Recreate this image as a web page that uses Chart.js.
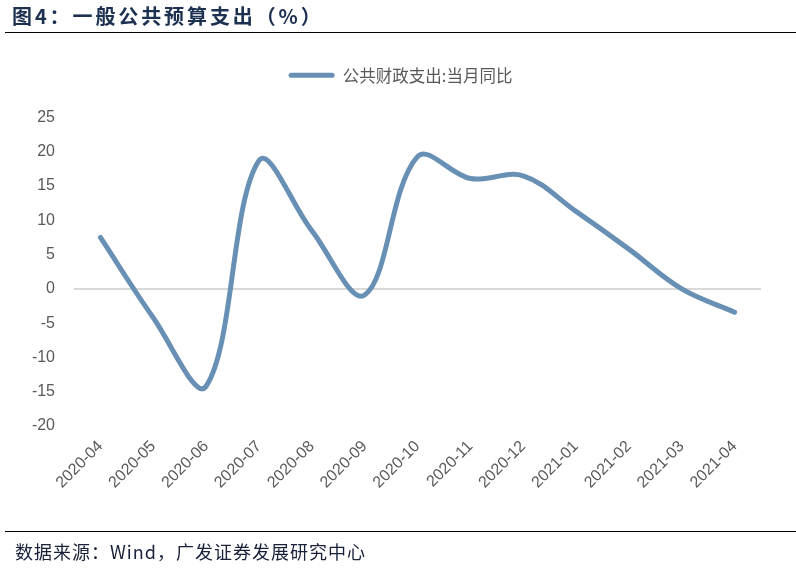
<!DOCTYPE html>
<html>
<head>
<meta charset="utf-8">
<script src="https://cdn.jsdelivr.net/npm/chart.js@4/dist/chart.umd.min.js"></script>
<style>
  html, body { margin: 0; padding: 0; background: #fff; }
  body { width: 796px; height: 573px; position: relative; overflow: hidden; }
  #title { position: absolute; left: 12px; top: 3px; font-family: "Noto Sans CJK SC", sans-serif; font-weight: bold; font-size: 20px; letter-spacing: 2.9px; color: #1c3050; line-height: 26px; white-space: nowrap; }
  #topline { position: absolute; left: 5px; right: 0; top: 32px; height: 0; border-top: 1.5px solid #000; }
  #botline { position: absolute; left: 5px; right: 0; top: 531px; height: 0; border-top: 1.5px solid #000; }
  #source { position: absolute; left: 15px; top: 538px; font-family: "Noto Sans CJK SC", sans-serif; font-size: 18px; letter-spacing: 1px; color: #18203a; line-height: 26px; white-space: nowrap; }
  #wrap { position: absolute; left: 0; top: 0; width: 796px; height: 573px; }
</style>
</head>
<body>
<div id="wrap"><canvas id="c"></canvas></div>
<div id="title">图4：一般公共预算支出（%）</div>
<div id="topline"></div>
<div id="botline"></div>
<div id="source">数据来源：Wind，广发证券发展研究中心</div>
<script>
const categories = ['2020-04','2020-05','2020-06','2020-07','2020-08','2020-09','2020-10','2020-11','2020-12','2021-01','2021-02','2021-03','2021-04'];
const seriesName = '公共财政支出:当月同比';
const seriesValues = [7.5, -4.2, -14.2, 18.7, 8.5, -0.9, 19.3, 16.1, 16.5, 11.3, 5.8, 0.0, -3.4];
const yMin = -20, yMax = 25, yStep = 5;

const lineColor = '#6890b5';

const legendMargin = {
  id: 'legendMargin',
  beforeInit(chart) {
    const origFit = chart.legend.fit;
    chart.legend.fit = function () {
      origFit.bind(chart.legend)();
      this.height += 24;
    };
  },
  afterLayout(chart) {
    chart.legend.left += 20;
    chart.legend.right += 20;
  }
};

new Chart(document.getElementById('c'), {
  type: 'line',
  data: {
    labels: categories,
    datasets: [{
      label: seriesName,
      data: seriesValues,
      borderColor: lineColor,
      backgroundColor: lineColor,
      borderWidth: 5,
      pointRadius: 0,
      pointHoverRadius: 0,
      tension: 0.36,
      borderCapStyle: 'round',
      borderJoinStyle: 'round',
      fill: false
    }]
  },
  options: {
    responsive: true,
    maintainAspectRatio: false,
    animation: false,
    layout: { padding: { left: 0, right: 35, top: 57, bottom: 0 } },
    plugins: {
      tooltip: { enabled: false },
      legend: {
        display: true,
        position: 'top',
        labels: {
          boxWidth: 46,
          boxHeight: 5,
          useBorderRadius: true,
          borderRadius: 2.5,
          color: '#595959',
          padding: 10,
          font: { family: '"Noto Sans CJK SC", sans-serif', size: 16.5 },
          generateLabels(chart) {
            return chart.data.datasets.map((ds, i) => ({
              text: ds.label,
              fillStyle: ds.borderColor,
              strokeStyle: ds.borderColor,
              lineWidth: 0,
              fontColor: '#595959',
              hidden: false,
              datasetIndex: i,
              borderRadius: 2.5
            }));
          }
        }
      }
    },
    scales: {
      x: {
        type: 'category',
        offset: true,
        grid: { display: false, drawTicks: false },
        border: { display: false },
        ticks: {
          autoSkip: false,
          minRotation: 45,
          maxRotation: 45,
          padding: 11,
          color: '#595959',
          font: { family: '"Liberation Sans", Arial, sans-serif', size: 16 }
        },
        afterFit(scale) { scale.height = 147; }
      },
      y: {
        min: yMin,
        max: yMax,
        grid: {
          drawTicks: false,
          color: (ctx) => (ctx.tick && ctx.tick.value === 0) ? '#d9d9d9' : 'rgba(0,0,0,0)',
          lineWidth: 2
        },
        border: { display: false },
        ticks: {
          stepSize: yStep,
          padding: 19,
          color: '#595959',
          font: { family: '"Liberation Sans", Arial, sans-serif', size: 16 }
        },
        afterFit(scale) { scale.width = 74; }
      }
    }
  },
  plugins: [legendMargin]
});
</script>
</body>
</html>
